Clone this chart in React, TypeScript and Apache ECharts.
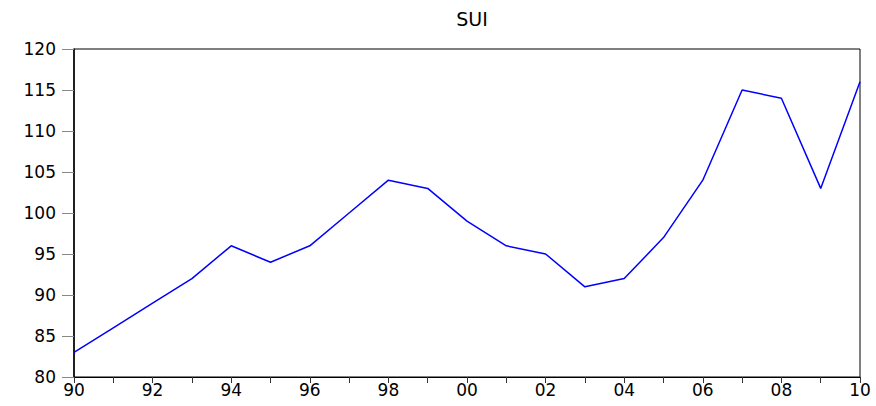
import React, { useEffect, useRef } from "react";
import * as echarts from "echarts";

const years = ["90","91","92","93","94","95","96","97","98","99","00","01","02","03","04","05","06","07","08","09","10"];
const sui = [83, 86, 89, 92, 96, 94, 96, 100, 104, 103, 99, 96, 95, 91, 92, 97, 104, 115, 114, 103, 116];
const title = "SUI";

export default function App() {
  const ref = useRef<HTMLDivElement>(null);
  useEffect(() => {
    const chart = echarts.init(ref.current!, null, { renderer: "svg" });
    const font = "'DejaVu Sans', Verdana, sans-serif";
    chart.setOption({
      animation: false,
      backgroundColor: "#fff",
      title: {
        text: title,
        left: 467,
        top: 4,
        textAlign: "center",
        textStyle: { fontFamily: font, fontSize: 19, fontWeight: "normal", color: "#000" },
      },
      grid: {
        left: 74, right: 16, top: 49, bottom: 29,
        show: true, borderColor: "#000", borderWidth: 1, backgroundColor: "transparent",
      },
      xAxis: {
        type: "category",
        data: years,
        boundaryGap: false,
        axisLine: { lineStyle: { color: "#000", width: 1 } },
        axisTick: { show: true, interval: 0, length: 6, lineStyle: { color: "#333" } },
        axisLabel: { interval: 1, color: "#000", fontFamily: font, fontSize: 17, margin: 4 },
        splitLine: { show: false },
      },
      yAxis: {
        type: "value",
        min: 80, max: 120, interval: 5,
        axisLine: { show: true, lineStyle: { color: "#000", width: 1.5 } },
        axisTick: { show: true, length: 12, lineStyle: { color: "#888" } },
        axisLabel: { color: "#000", fontFamily: font, fontSize: 17, margin: 18 },
        splitLine: { show: false },
      },
      series: [
        {
          type: "line",
          data: sui,
          symbol: "none",
          lineStyle: { color: "#0000ff", width: 1.5 },
        },
      ],
    });
    return () => chart.dispose();
  }, []);
  return <div ref={ref} style={{ position: "fixed", left: 0, top: 0, width: 876, height: 406 }} />;
}
